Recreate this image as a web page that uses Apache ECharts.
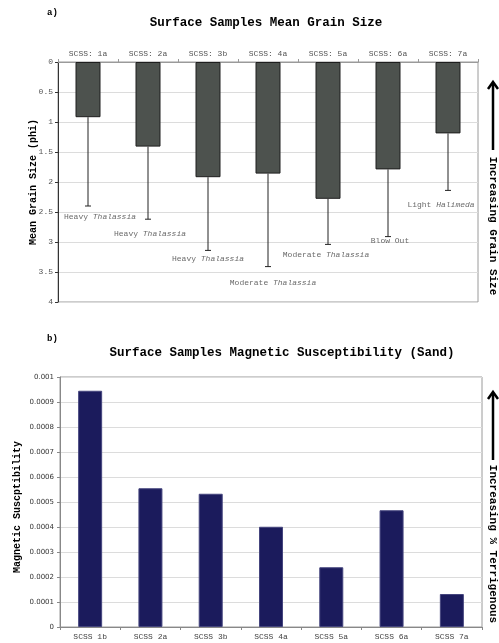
<!DOCTYPE html>
<html>
<head>
<meta charset="utf-8">
<script src="https://cdn.jsdelivr.net/npm/echarts@6/dist/echarts.min.js"></script>
<style>
  html, body { margin: 0; padding: 0; background: #fff; }
  #chart { width: 499px; height: 643px; }
</style>
</head>
<body>
<div id="chart"></div>
<script>
// ---- a) Mean grain size of the surface samples (phi) ----
const grainCategories = ['SCSS: 1a', 'SCSS: 2a', 'SCSS: 3b', 'SCSS: 4a', 'SCSS: 5a', 'SCSS: 6a', 'SCSS: 7a'];
const meanGrainSize   = [0.92, 1.41, 1.92, 1.86, 2.28, 1.79, 1.19];
const grainErrorEnd   = [2.40, 2.62, 3.14, 3.41, 3.04, 2.91, 2.14];
const coverType       = ['Heavy', 'Heavy', 'Heavy', 'Moderate', 'Moderate', 'Blow Out', 'Light'];
const coverGenus      = ['Thalassia', 'Thalassia', 'Thalassia', 'Thalassia', 'Thalassia', '', 'Halimeda'];

// ---- b) Magnetic susceptibility of the sand fraction ----
const magCategories     = ['SCSS 1b', 'SCSS 2a', 'SCSS 3b', 'SCSS 4a', 'SCSS 5a', 'SCSS 6a', 'SCSS 7a'];
const magSusceptibility = [0.000945, 0.000555, 0.000533, 0.000401, 0.000239, 0.000467, 0.000132];

// label nudges (pixels) for the vegetation notes under each error bar
const noteOffsets = [[12, 11], [2, 15], [0, 8], [5, 16], [-2, 10], [2, 4], [-7, 14]];

const MONO = '"Liberation Mono", "DejaVu Sans Mono", monospace';
const SANS = '"DejaVu Sans", Verdana, sans-serif';

const chart = echarts.init(document.getElementById('chart'), null, { renderer: 'canvas' });

function verticalNote(cx, cy, text) {
  return {
    type: 'text', x: cx, y: cy, rotation: -Math.PI / 2,
    style: {
      text: text, fill: '#000', font: 'bold 11px ' + MONO,
      align: 'center', verticalAlign: 'middle',
      textAlign: 'center', textVerticalAlign: 'middle'
    }
  };
}
function upArrow(x, yTip, yEnd) {
  return {
    type: 'group',
    children: [
      { type: 'line', shape: { x1: x, y1: yTip + 1, x2: x, y2: yEnd }, style: { stroke: '#000', lineWidth: 2.5 } },
      { type: 'polyline', shape: { points: [[x - 5, yTip + 7], [x, yTip], [x + 5, yTip + 7]] },
        style: { stroke: '#000', lineWidth: 2.5, fill: null } }
    ]
  };
}
function plainText(x, y, text, font, align) {
  return {
    type: 'text', x: x, y: y,
    style: { text: text, fill: '#000', font: font, align: align, verticalAlign: 'middle',
             textAlign: align, textVerticalAlign: 'middle' }
  };
}

const option = {
  backgroundColor: '#fff',
  animation: false,
  grid: [
    { left: 58, top: 62, width: 420, height: 240, show: true, borderColor: '#9a9a9a', borderWidth: 1, backgroundColor: 'transparent' },
    { left: 60, top: 377, width: 422, height: 250, show: true, borderColor: '#9a9a9a', borderWidth: 1, backgroundColor: 'transparent' }
  ],
  xAxis: [
    {
      gridIndex: 0, type: 'category', position: 'top', data: grainCategories,
      axisLine: { lineStyle: { color: '#9a9a9a' } },
      axisTick: { show: true, length: 3, lineStyle: { color: '#9a9a9a' } },
      axisLabel: { color: '#555', fontFamily: MONO, fontSize: 8, margin: 4 }
    },
    {
      gridIndex: 1, type: 'category', position: 'bottom', data: magCategories,
      axisLine: { lineStyle: { color: '#888' } },
      axisTick: { show: true, length: 3, lineStyle: { color: '#888' } },
      axisLabel: { color: '#444', fontFamily: MONO, fontSize: 8, margin: 6 }
    }
  ],
  yAxis: [
    {
      gridIndex: 0, type: 'value', inverse: true, min: 0, max: 4, interval: 0.5,
      name: 'Mean Grain Size (phi)', nameLocation: 'middle', nameGap: 20, nameMoveOverlap: false,
      nameTextStyle: { fontFamily: MONO, fontWeight: 'bold', fontSize: 10, color: '#000' },
      axisLine: { show: true, lineStyle: { color: '#333' } },
      axisTick: { show: true, length: 3, lineStyle: { color: '#333' } },
      axisLabel: { color: '#555', fontFamily: MONO, fontSize: 8, margin: 5 },
      splitLine: { lineStyle: { color: '#dcdcdc' } }
    },
    {
      gridIndex: 1, type: 'value', min: 0, max: 0.001, interval: 0.0001,
      name: 'Magnetic Suscptibility', nameLocation: 'middle', nameGap: 38, nameMoveOverlap: false,
      nameTextStyle: { fontFamily: MONO, fontWeight: 'bold', fontSize: 10, color: '#000', padding: [0, 0, 0, -10] },
      axisLine: { show: true, lineStyle: { color: '#888' } },
      axisTick: { show: true, length: 3, lineStyle: { color: '#888' } },
      axisLabel: {
        color: '#333', fontFamily: SANS, fontSize: 7, margin: 6,
        formatter: v => String(parseFloat(v.toFixed(4)))
      },
      splitLine: { lineStyle: { color: '#dcdcdc' } }
    }
  ],
  series: [
    {
      type: 'bar', xAxisIndex: 0, yAxisIndex: 0, data: meanGrainSize, barWidth: 25,
      itemStyle: { color: '#4d524e', borderColor: '#1e1e1e', borderWidth: 1 },
      z: 3
    },
    {
      // one-sided error bars hanging below each grain-size bar
      type: 'custom', xAxisIndex: 0, yAxisIndex: 0,
      data: meanGrainSize.map((v, i) => [i, v, grainErrorEnd[i]]),
      encode: { x: 0, y: [1, 2] },
      renderItem: function (params, api) {
        const a = api.coord([api.value(0), api.value(1)]);
        const b = api.coord([api.value(0), api.value(2)]);
        const st = { stroke: '#222', lineWidth: 1 };
        return {
          type: 'group',
          children: [
            { type: 'line', shape: { x1: a[0], y1: a[1], x2: a[0], y2: b[1] }, style: st },
            { type: 'line', shape: { x1: a[0] - 3, y1: b[1], x2: a[0] + 3, y2: b[1] }, style: st }
          ]
        };
      },
      z: 4, silent: true
    },
    {
      // vegetation notes placed under the error-bar ends
      type: 'scatter', xAxisIndex: 0, yAxisIndex: 0, symbolSize: 0, silent: true,
      data: grainErrorEnd.map((v, i) => ({
        value: [i, v],
        label: { offset: noteOffsets[i] }
      })),
      label: {
        show: true, position: 'inside',
        formatter: p => {
          const i = p.dataIndex;
          return coverGenus[i] ? '{n|' + coverType[i] + ' }{g|' + coverGenus[i] + '}' : '{n|' + coverType[i] + '}';
        },
        rich: {
          n: { fontFamily: MONO, fontSize: 8, color: '#444' },
          g: { fontFamily: MONO, fontSize: 8, color: '#444', fontStyle: 'italic' }
        }
      },
      z: 5
    },
    {
      type: 'bar', xAxisIndex: 1, yAxisIndex: 1, data: magSusceptibility, barWidth: 24,
      itemStyle: { color: '#1b1b5c', borderColor: '#45457e', borderWidth: 1 }
    }
  ],
  graphic: [
    plainText(47, 13, 'a)', 'bold 9px ' + MONO, 'left'),
    plainText(266, 23, 'Surface Samples Mean Grain Size', 'bold 12.5px ' + MONO, 'center'),
    plainText(47, 339, 'b)', 'bold 9px ' + MONO, 'left'),
    plainText(282, 353, 'Surface Samples Magnetic Susceptibility (Sand)', 'bold 12.5px ' + MONO, 'center'),
    upArrow(493, 82, 150),
    verticalNote(493, 226, 'Increasing Grain Size'),
    upArrow(493, 392, 460),
    verticalNote(493, 544, 'Increasing % Terrigenous')
  ]
};

chart.setOption(option);
</script>
</body>
</html>
